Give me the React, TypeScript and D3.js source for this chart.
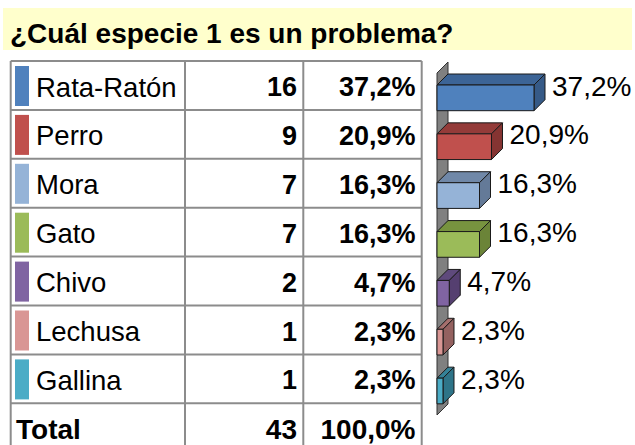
import React from "react";
import * as d3 from "d3";

const categories = ["Rata-Ratón", "Perro", "Mora", "Gato", "Chivo", "Lechusa", "Gallina"];
const counts = [16, 9, 7, 7, 2, 1, 1];
const percents = [37.2, 20.9, 16.3, 16.3, 4.7, 2.3, 2.3];
const totalCount = 43;
const totalPercent = 100.0;
const title = "¿Cuál especie 1 es un problema?";

const frontColors = ["#4F81BD", "#C0504D", "#95B3D7", "#9BBB59", "#8064A2", "#D99694", "#4BACC6"];
const topColors = ["#3C6496", "#943B39", "#7088A8", "#77933F", "#5F4A7C", "#A56F6D", "#348298"];
const sideColors = ["#365A87", "#853432", "#647A98", "#6B8438", "#553F70", "#946160", "#2E7488"];

const fmtPct = (v: number) => v.toFixed(1).replace(".", ",") + "%";

export default function App() {
  const W = 635, H = 445;
  const font = "'Liberation Sans', Arial, sans-serif";

  // table geometry
  const tableTop = 61;
  const rowH = 48.9;
  const colX = [10.7, 185, 303.3, 421.7];
  const rowY = d3.range(categories.length + 2).map((i) => tableTop + i * rowH);

  // chart geometry
  const depth = 11;
  const x = d3.scaleLinear().domain([0, 37.2]).range([437, 534]);
  const y = d3.scaleBand<string>().domain(categories).range([73, 415]).padding(0);
  const barH = 25.7;
  const barOff = 12;

  return (
    <svg width={W} height={H} style={{ position: "absolute", left: 0, top: 0, background: "#fff" }}>
      {/* title band */}
      <rect x={3} y={8} width={629} height={42} fill="#FFFFCC" />
      <text x={10} y={43} fontFamily={font} fontWeight="bold" fontSize={28} fill="#000">
        {title}
      </text>

      {/* table grid */}
      {rowY.slice(0, categories.length + 1).map((yy, i) => (
        <line key={"h" + i} x1={colX[0]} x2={colX[3]} y1={yy} y2={yy} stroke="#8c8c8c" strokeWidth={2} />
      ))}
      {colX.map((xx, i) => (
        <line key={"v" + i} x1={xx} x2={xx} y1={tableTop} y2={H + 2} stroke="#8c8c8c" strokeWidth={2} />
      ))}

      {/* table rows */}
      {categories.map((c, i) => {
        const top = rowY[i];
        return (
          <g key={c}>
            <rect x={15} y={top + 5} width={14} height={40} fill={frontColors[i]} />
            <text x={36} y={top + 35.5} fontFamily={font} fontSize={27.5} fill="#000">
              {c}
            </text>
            <text x={297} y={top + 35} textAnchor="end" fontFamily={font} fontWeight="bold" fontSize={27} fill="#000">
              {counts[i]}
            </text>
            <text x={415.5} y={top + 35} textAnchor="end" fontFamily={font} fontWeight="bold" fontSize={27} fill="#000">
              {fmtPct(percents[i])}
            </text>
          </g>
        );
      })}
      {/* total row */}
      <text x={16} y={439} fontFamily={font} fontWeight="bold" fontSize={28} fill="#000">Total</text>
      <text x={297} y={439} textAnchor="end" fontFamily={font} fontWeight="bold" fontSize={28} fill="#000">{totalCount}</text>
      <text x={415.5} y={439} textAnchor="end" fontFamily={font} fontWeight="bold" fontSize={28} fill="#000">{fmtPct(totalPercent)}</text>

      {/* 3D wall */}
      <path
        d={`M${x(0)},${y.range()[0]} L${x(0) + depth},${y.range()[0] - depth} L${x(0) + depth},${y.range()[1] - depth} L${x(0)},${y.range()[1]} Z`}
        fill="#808080"
        stroke="#333"
        strokeWidth={1}
      />

      {/* 3D bars */}
      {categories.map((c, i) => {
        const x0 = x(0);
        const x1 = x(percents[i]);
        const t = (y(c) as number) + barOff;
        const b = t + barH;
        const front = `M${x0},${t} L${x1},${t} L${x1},${b} L${x0},${b} Z`;
        const topFace = `M${x0},${t} L${x0 + depth},${t - depth} L${x1 + depth},${t - depth} L${x1},${t} Z`;
        const side = `M${x1},${t} L${x1 + depth},${t - depth} L${x1 + depth},${b - depth} L${x1},${b} Z`;
        return (
          <g key={"bar" + c} stroke="#1a1a1a" strokeWidth={1} strokeLinejoin="round">
            <path d={topFace} fill={topColors[i]} />
            <path d={side} fill={sideColors[i]} />
            <path d={front} fill={frontColors[i]} />
            <text
              x={x1 + depth + 7}
              y={t + 10.5}
              stroke="none"
              fontFamily={font}
              fontSize={28}
              fill="#000"
            >
              {fmtPct(percents[i])}
            </text>
          </g>
        );
      })}
    </svg>
  );
}
